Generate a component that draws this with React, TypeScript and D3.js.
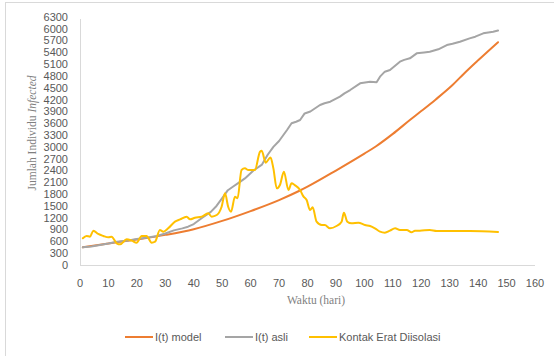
import React from "react";
import * as d3 from "d3";

const W = 554;
const H = 356;

const xTicks = [0, 10, 20, 30, 40, 50, 60, 70, 80, 90, 100, 110, 120, 130, 140, 150, 160];
const yTicks = d3.range(0, 6301, 300);

// I(t) model
const modelDays = [1, 10, 20, 30, 40, 50, 60, 70, 77, 80, 90, 100, 104, 110, 116, 120, 125, 131, 135, 140, 147];
const modelVals = [450, 545, 650, 765, 910, 1120, 1370, 1650, 1880, 1990, 2400, 2830, 3010, 3330, 3683, 3910, 4200, 4572, 4860, 5200, 5660];

// I(t) asli
const asliDays = [1, 4, 7, 10, 13, 17, 20, 24, 27, 30, 33, 36, 38, 40, 43, 46, 48, 50, 52, 54, 56, 58, 61, 64, 66, 68, 70, 72.8, 74.4, 76, 77.4, 79, 81, 84.4, 86, 88, 91.4, 93, 95, 98.5, 102, 104.3, 105.5, 107.2, 109, 112.5, 114, 116, 118.4, 121, 123, 126, 129, 131, 133.6, 137, 139, 141.8, 145.3, 147];
const asliVals = [450, 470, 508, 545, 590, 625, 660, 700, 737, 800, 880, 930, 973, 1040, 1200, 1350, 1500, 1700, 1900, 2000, 2100, 2200, 2400, 2550, 2800, 3000, 3150, 3430, 3600, 3640, 3683, 3850, 3900, 4064, 4110, 4149, 4276, 4360, 4445, 4615, 4657, 4640, 4784, 4911, 4953, 5165, 5210, 5250, 5377, 5400, 5419, 5480, 5588, 5620, 5673, 5758, 5800, 5885, 5927, 5955];

// Kontak Erat Diisolasi
const kontakDays = [1, 2.3, 3.5, 4.7, 6.4, 8.2, 10, 11.1, 12.9, 14.1, 16.4, 18.2, 19.9, 21.7, 23.4, 25.2, 26.4, 28.1, 29.3, 31, 33.4, 35.2, 37.5, 38.7, 40.4, 42.8, 45.1, 46.3, 48.1, 49.8, 51, 52.1, 53.1, 54.5, 55.4, 56.8, 58, 59.2, 61.5, 63.3, 63.9, 65.3, 67, 68, 69.2, 70.3, 71.7, 73.3, 74.4, 75.5, 77.4, 78.5, 79.7, 80.9, 81.8, 83.2, 85, 86.1, 87.9, 90.2, 92, 92.8, 94, 95.5, 97.9, 100.2, 102, 103.7, 105.5, 107.2, 109, 110.8, 112.5, 114.9, 116.6, 117.8, 119.5, 123, 125.4, 131.3, 137.1, 147];
const kontakVals = [678, 737, 720, 872, 788, 737, 703, 720, 551, 525, 653, 618, 568, 737, 737, 568, 593, 889, 847, 932, 1101, 1160, 1228, 1160, 1200, 1228, 1312, 1228, 1270, 1481, 1820, 1481, 1354, 1735, 1693, 2413, 2455, 2413, 2413, 2878, 2900, 2600, 2730, 2455, 1948, 2032, 2370, 1905, 2074, 2030, 1905, 1750, 1651, 1397, 1465, 1101, 1016, 1016, 932, 991, 1101, 1329, 1101, 1058, 1075, 1016, 991, 932, 847, 822, 872, 932, 889, 889, 830, 872, 872, 889, 864, 864, 864, 838];

const seriesNames = ["I(t) model", "I(t) asli", "Kontak Erat Diisolasi"];
const seriesColors = ["#ED7D31", "#A5A5A5", "#FFC000"];

export default function App() {
  const x = d3.scaleLinear().domain([0, 160]).range([80, 535]);
  const y = d3.scaleLinear().domain([0, 6300]).range([265, 17]);

  const mk = (days: number[], vals: number[], curve: d3.CurveFactory) =>
    d3
      .line<number>()
      .x((_, i) => x(days[i]))
      .y((v) => y(v))
      .curve(curve)(vals) || "";

  const paths = [
    mk(modelDays, modelVals, d3.curveMonotoneX),
    mk(asliDays, asliVals, d3.curveLinear),
    mk(kontakDays, kontakVals, d3.curveMonotoneX),
  ];

  const legendX = [125, 225, 309];
  const tickFont = "'Liberation Sans', Arial, sans-serif";
  const serif = "'Liberation Serif', 'Times New Roman', serif";

  return (
    <div style={{ position: "absolute", left: 0, top: 0 }}>
      <svg width={W} height={H} style={{ display: "block", background: "#fff" }}>
        <line x1={5} x2={W} y1={2.5} y2={2.5} stroke="#D9D9D9" strokeWidth={1} />
        <line x1={5.5} x2={5.5} y1={2} y2={H} stroke="#D9D9D9" strokeWidth={1} />

        {/* axes */}
        <line x1={80.5} x2={80.5} y1={19} y2={265} stroke="#D9D9D9" strokeWidth={1} />
        <line x1={80} x2={535} y1={265.5} y2={265.5} stroke="#D9D9D9" strokeWidth={1} />

        {yTicks.map((t) => (
          <text key={t} x={68} y={y(t)} dy="0.35em" textAnchor="end" fontSize={11} fill="#595959" fontFamily={tickFont}>
            {t}
          </text>
        ))}
        {xTicks.map((t) => (
          <text key={t} x={x(t)} y={283} dy="0.35em" textAnchor="middle" fontSize={11} fill="#595959" fontFamily={tickFont}>
            {t}
          </text>
        ))}

        <text
          transform={`translate(36,133) rotate(-90)`}
          textAnchor="middle"
          fontSize={11.5}
          fill="#7F7F7F"
          fontFamily={serif}
        >
          Jumlah Individu <tspan fontStyle="italic">Infected</tspan>
        </text>
        <text x={316} y={300} dy="0.35em" textAnchor="middle" fontSize={11.5} fill="#7F7F7F" fontFamily={serif}>
          Waktu (hari)
        </text>

        {/* series */}
        {paths.map((p, i) => (
          <path key={i} d={p} fill="none" stroke={seriesColors[i]} strokeWidth={2} strokeLinejoin="round" strokeLinecap="round" />
        ))}

        {/* legend */}
        {seriesNames.map((n, i) => (
          <g key={n}>
            <line x1={legendX[i]} x2={legendX[i] + 28} y1={337} y2={337} stroke={seriesColors[i]} strokeWidth={2} />
            <text x={legendX[i] + 30} y={337} dy="0.35em" fontSize={11} fill="#595959" fontFamily={tickFont}>
              {n}
            </text>
          </g>
        ))}
      </svg>
    </div>
  );
}
